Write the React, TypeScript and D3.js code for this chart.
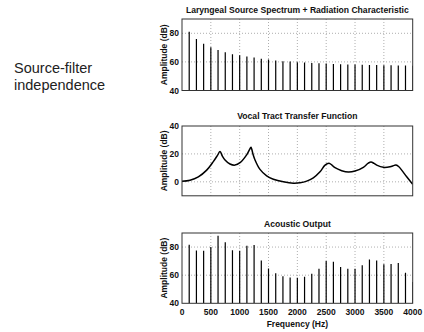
import React from "react";
import * as d3 from "d3";

const harmonics: number[] = d3.range(1, 33).map((k) => k * 125);
const sourceDb: number[] = [81, 76, 72.7, 70.2, 68.3, 66.7, 65.4, 64.6, 63.7, 63, 62.2, 61.6, 61, 60.5, 60.2, 59.8, 59.5, 59.2, 59, 58.8, 58.6, 58.4, 58.2, 58.1, 58, 57.9, 57.8, 57.7, 57.6, 57.5, 57.4, 57.3];
const outputDb: number[] = [81.7, 77.6, 77.3, 80, 88, 83.4, 77.8, 77.3, 81, 81.4, 70.4, 64.8, 61.4, 59.3, 58.3, 58.1, 58.8, 61, 64.6, 70.1, 69.6, 65.8, 64.6, 64.6, 67, 71.1, 70.4, 67.7, 68, 68.7, 61.7, 55.2];
const tfFreq: number[] = [0, 139, 283, 428, 543, 620, 659, 700, 746, 832, 919, 1006, 1121, 1170, 1196, 1230, 1266, 1352, 1468, 1584, 1757, 1931, 2046, 2162, 2277, 2393, 2480, 2549, 2600, 2653, 2769, 2884, 3000, 3144, 3230, 3277, 3330, 3376, 3491, 3607, 3680, 3711, 3760, 3809, 3896, 4000];
const tfDb: number[] = [0.4, 1.2, 3.6, 8.4, 14.5, 19.3, 21.8, 18.5, 15.7, 12.8, 12.0, 13.7, 19.3, 23, 24.8, 20, 15.7, 8.9, 4.3, 1.9, 0, -1, -0.7, 0.5, 2.9, 7.2, 12, 13.3, 12, 10.1, 8.0, 7.0, 7.7, 10.4, 13.4, 14.2, 13.2, 12, 10.4, 10.8, 11.8, 12, 10.8, 8.4, 3.6, -1.7];
const xTicks: number[] = [0, 500, 1000, 1500, 2000, 2500, 3000, 3500, 4000];
const titles: string[] = ["Laryngeal Source Spectrum + Radiation Characteristic", "Vocal Tract Transfer Function", "Acoustic Output"];
const yTicks1: number[] = [40, 60, 80];
const yTicks2: number[] = [0, 20, 40];
const yTicks3: number[] = [40, 60, 80];

const X0 = 182, X1 = 412.7;
const font = "'Liberation Sans', Arial, sans-serif";

type PanelProps = {
  top: number; bottom: number; domain: [number, number]; ticks: number[];
  title: string; titleY: number; children: (y: d3.ScaleLinear<number, number>, x: d3.ScaleLinear<number, number>) => React.ReactNode;
  showX?: boolean;
};

function Panel({ top, bottom, domain, ticks, title, titleY, children, showX }: PanelProps) {
  const x = d3.scaleLinear().domain([0, 4000]).range([X0, X1]);
  const y = d3.scaleLinear().domain(domain).range([bottom, top]);
  const clipId = "clip" + Math.round(top);
  return (
    <g>
      <defs>
        <clipPath id={clipId}><rect x={X0} y={top} width={X1 - X0} height={bottom - top} /></clipPath>
      </defs>
      <rect x={X0} y={top} width={X1 - X0} height={bottom - top} fill="#fff" />
      {xTicks.slice(1, -1).map((t) => (
        <line key={"gx" + t} x1={x(t)} x2={x(t)} y1={top} y2={bottom} stroke="#999" strokeWidth={0.8} strokeDasharray="1,2" />
      ))}
      {ticks.filter((t) => t > domain[0] && t < domain[1]).map((t) => (
        <line key={"gy" + t} x1={X0} x2={X1} y1={y(t)} y2={y(t)} stroke="#999" strokeWidth={0.8} strokeDasharray="1,2" />
      ))}
      <g clipPath={`url(#${clipId})`}>{children(y, x)}</g>
      <rect x={X0} y={top} width={X1 - X0} height={bottom - top} fill="none" stroke="#333" strokeWidth={1} />
      {ticks.map((t) => (
        <text key={"ty" + t} x={X0 - 3} y={y(t) + 3} textAnchor="end" fontSize={8.5} fontWeight="bold" fontFamily={font} fill="#111">{t}</text>
      ))}
      <text transform={`translate(167,${(top + bottom) / 2}) rotate(-90)`} textAnchor="middle" fontSize={8.5} fontWeight="bold" fontFamily={font} fill="#111">Amplitude (dB)</text>
      <text x={(X0 + X1) / 2} y={titleY} textAnchor="middle" fontSize={8.6} fontWeight="bold" fontFamily={font} fill="#111">{title}</text>
      {showX && xTicks.map((t) => (
        <text key={"tx" + t} x={x(t)} y={315} textAnchor="middle" fontSize={8.5} fontWeight="bold" fontFamily={font} fill="#111">{t}</text>
      ))}
      {showX && <text x={(X0 + X1) / 2} y={326.5} textAnchor="middle" fontSize={8.5} fontWeight="bold" fontFamily={font} fill="#111">Frequency (Hz)</text>}
    </g>
  );
}

export default function App() {
  const line = (x: d3.ScaleLinear<number, number>, y: d3.ScaleLinear<number, number>) =>
    d3.line<number>().x((_, i) => x(tfFreq[i])).y((d) => y(d)).curve(d3.curveCatmullRom.alpha(0.5))(tfDb) || "";
  return (
    <svg width={424} height={332} style={{ position: "absolute", left: 0, top: 0 }}>
      <rect width={424} height={332} fill="#fff" />
      <text x={14} y={73.3} fontSize={14.5} fontFamily={font} fill="#222">Source-filter</text>
      <text x={14} y={90} fontSize={14.5} fontFamily={font} fill="#222">independence</text>
      <Panel top={19} bottom={90.5} domain={[40, 90]} ticks={yTicks1} title={titles[0]} titleY={12.5}>
        {(y, x) => harmonics.map((f, i) => (
          <line key={f} x1={x(f)} x2={x(f)} y1={y(40)} y2={y(sourceDb[i])} stroke="#000" strokeWidth={1.2} />
        ))}
      </Panel>
      <Panel top={126} bottom={195.8} domain={[-10, 40]} ticks={yTicks2} title={titles[1]} titleY={119}>
        {(y, x) => <path d={line(x, y)} fill="none" stroke="#000" strokeWidth={1.5} />}
      </Panel>
      <Panel top={233} bottom={303.3} domain={[40, 90]} ticks={yTicks3} title={titles[2]} titleY={226.5} showX>
        {(y, x) => harmonics.map((f, i) => (
          <line key={f} x1={x(f)} x2={x(f)} y1={y(40)} y2={y(outputDb[i])} stroke="#000" strokeWidth={1.2} />
        ))}
      </Panel>
    </svg>
  );
}
